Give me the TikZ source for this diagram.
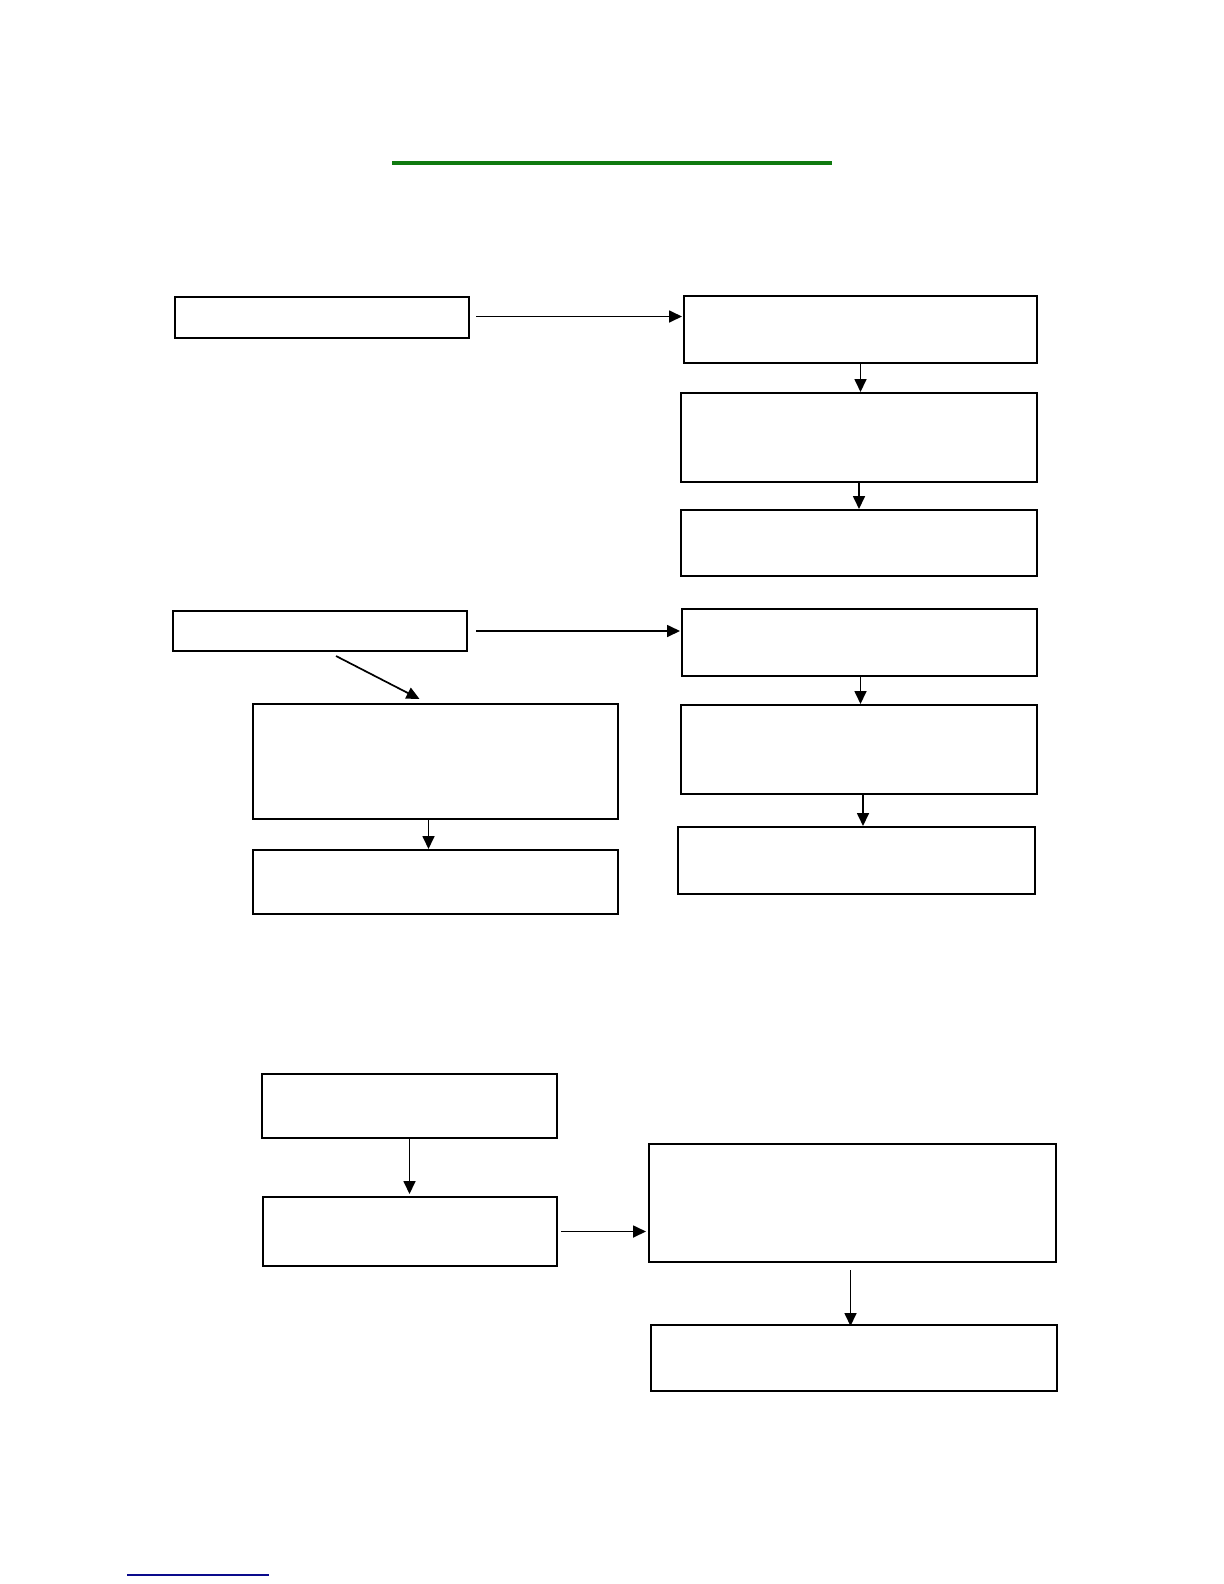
\documentclass[tikz,border=0pt]{standalone}
\usetikzlibrary{arrows.meta,calc}
\definecolor{rulegreen}{RGB}{16,122,16}
\definecolor{rulenavy}{RGB}{10,10,140}
\newcommand{\bx}[5]{%
  \node[boxst, minimum width={(#4-#2)*0.5pt}, minimum height={(#5-#3)*0.5pt}]
    (#1) at ({(#2+#4)/2},{(#3+#5)/2}) {};}
\tikzset{
  boxst/.style={draw=black, line width=1pt, rectangle, inner sep=0pt, fill=white},
  arr/.style={draw=black, line width=0.85pt, -{Triangle[length=6.5pt,width=6pt]}}
}
\begin{document}
\begin{tikzpicture}[x=0.5pt,y=-0.5pt]
\useasboundingbox (0,0) rectangle (1224,1584);
% title rule
\draw[rulegreen, line width=2pt] (392,163) coordinate (g1) -- (832,163) coordinate (g2);
% footnote rule
\draw[rulenavy, line width=0.6pt] (127,1575) coordinate (f1) -- (269,1575) coordinate (f2);
% boxes
\bx{A}{175}{297}{469}{338}
\bx{R1}{684}{296}{1037}{363}
\bx{R2}{681}{393}{1037}{482}
\bx{R3}{681}{510}{1037}{576}
\bx{B}{173}{611}{467}{651}
\bx{R4}{682}{609}{1037}{676}
\bx{R5}{681}{705}{1037}{794}
\bx{R6}{678}{827}{1035}{894}
\bx{L1}{253}{704}{618}{819}
\bx{L2}{253}{850}{618}{914}
\bx{M1}{262}{1074}{557}{1138}
\bx{M2}{263}{1197}{557}{1266}
\bx{N1}{649}{1144}{1056}{1262}
\bx{N2}{651}{1325}{1057}{1391}
% connectors
\draw[arr] ($(A.east)+(6,-1)$) -- ($(A.east -| R1.west)+(-1,-1)$);
\draw[arr] (R1.south) -- (R1.south |- R2.north);
\draw[arr] (R2.south) -- (R2.south |- R3.north);
\draw[arr] ($(B.east)+(8,0)$) -- ($(B.east -| R4.west)+(-1,0)$);
\draw[arr] ($(R4.south)+(1,0)$) -- ($(R4.south |- R5.north)+(1,0)$);
\draw[arr] ($(R5.south)+(4,0)$) -- ($(R5.south |- R6.north)+(4,0)$);
\draw[arr] ($(B.south)+(16,4)$) -- ($(L1.north)+(-16,-4)$);
\draw[arr] ($(L1.south)+(-7,0)$) -- ($(L1.south |- L2.north)+(-7,0)$);
\draw[arr] (M1.south) -- ($(M1.south |- M2.north)+(0,-2)$);
\draw[arr] ($(M2.east)+(3,0)$) -- ($(M2.east -| N1.west)+(-2,0)$);
\draw[arr] ($(N1.south)+(-2,7)$) -- ($(N1.south |- N2.north)+(-2,2)$);
\end{tikzpicture}
\end{document}
